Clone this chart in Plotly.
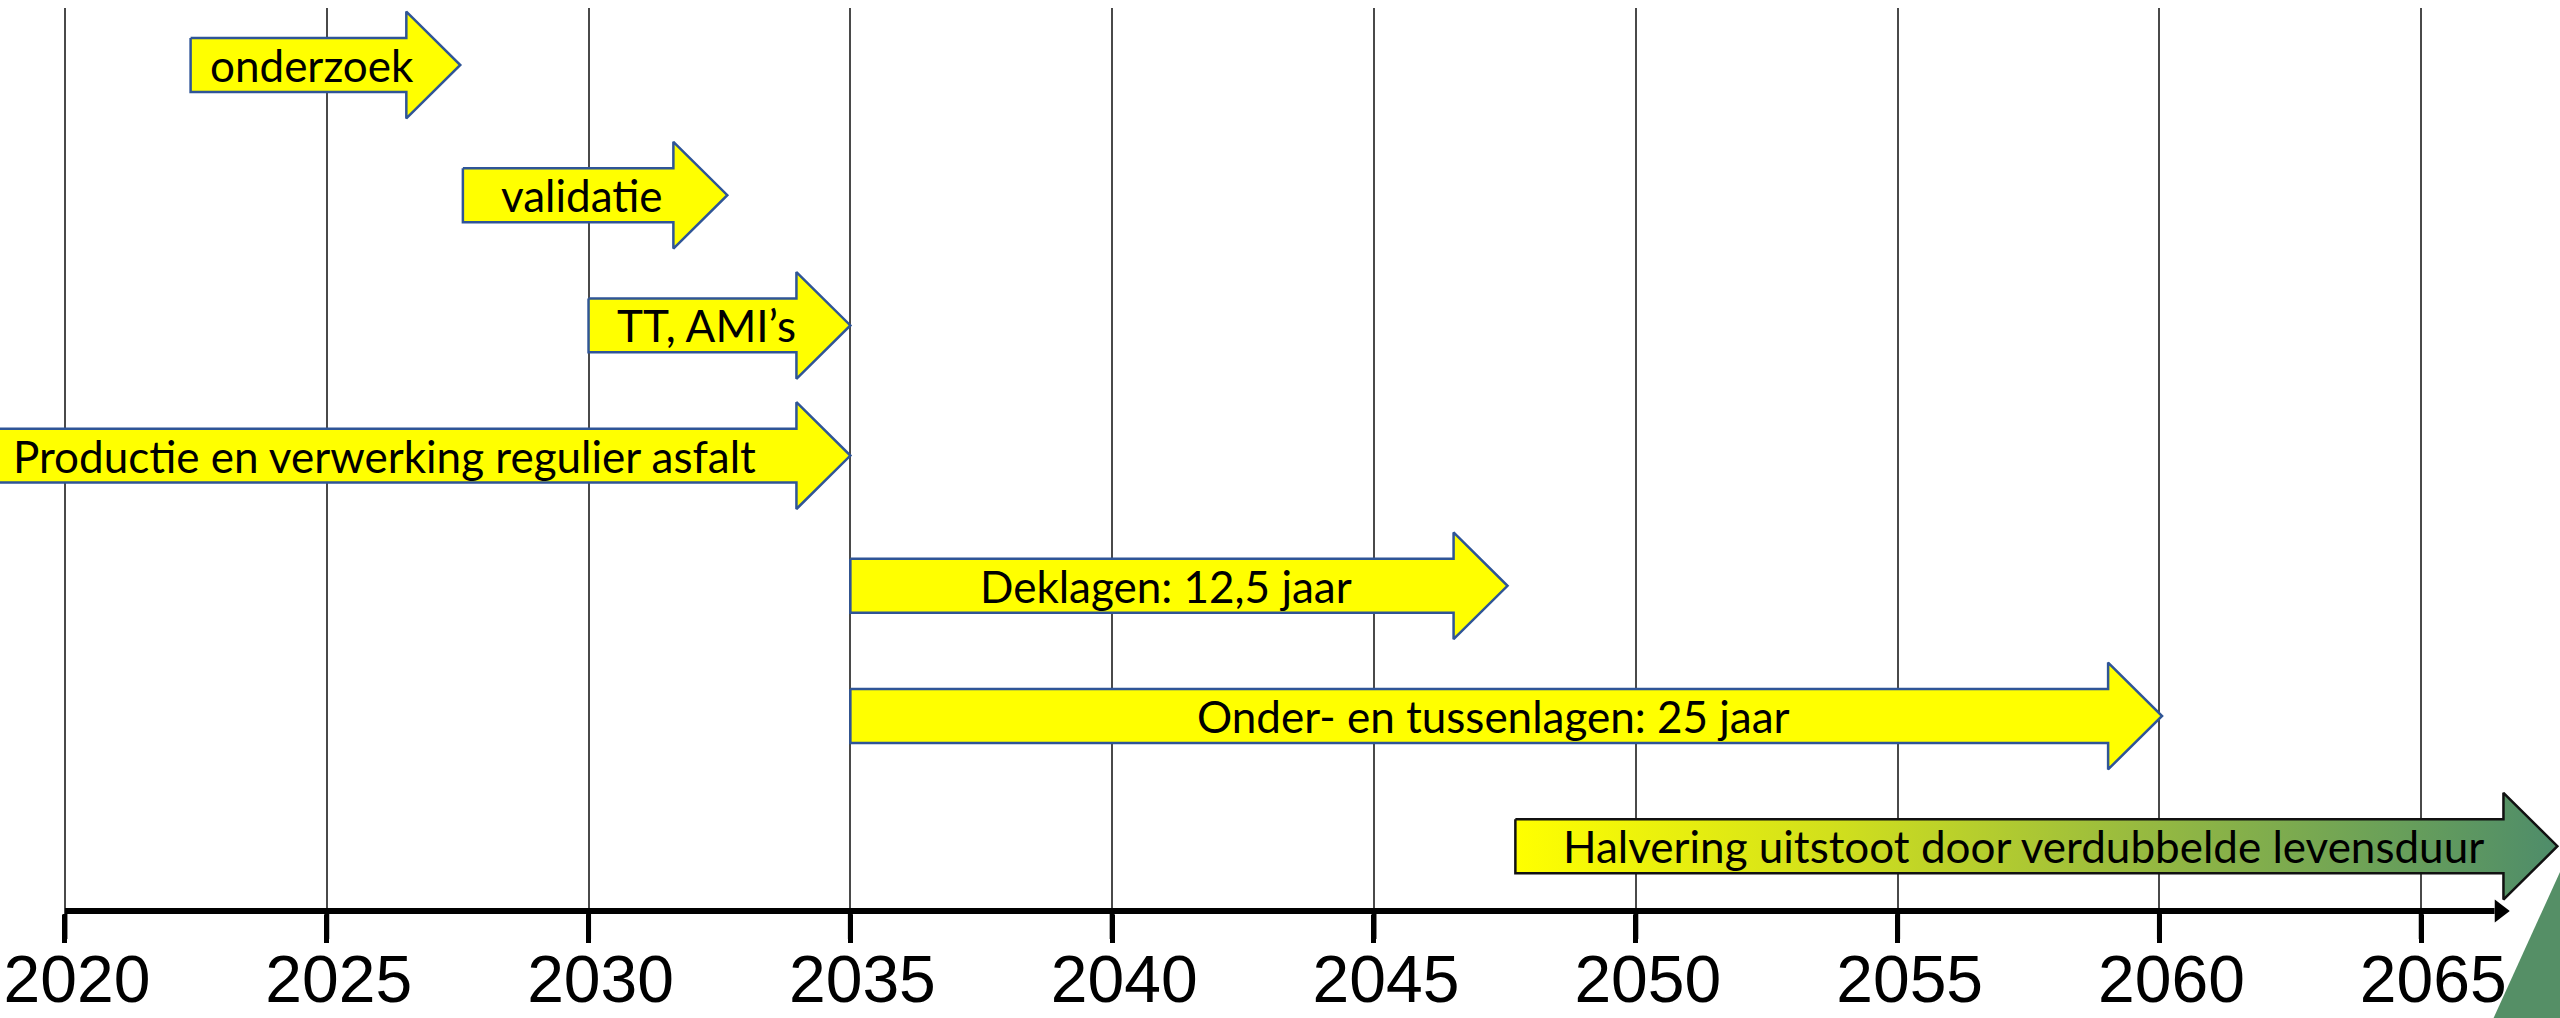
import plotly.graph_objects as go

# ---- data ----
tasks = ["onderzoek", "validatie", "TT, AMI’s",
         "Productie en verwerking regulier asfalt",
         "Deklagen: 12,5 jaar", "Onder- en tussenlagen: 25 jaar",
         "Halvering uitstoot door verdubbelde levensduur"]
start_year = [2022.4, 2027.6, 2030.0, 2017.7, 2035.0, 2035.0, 2047.7]
end_year = [2027.55, 2032.65, 2035.0, 2035.0, 2047.55, 2060.05, 2067.6]
rows = [0, 1, 2, 3, 4, 5, 6]
tick_years = [2020, 2025, 2030, 2035, 2040, 2045, 2050, 2055, 2060, 2065]
axis_start, axis_end = 2020, 2066.5
axis_row = 6.498

# ---- style ----
HEAD_LEN = 1.03
BODY_H = 0.207
HEAD_H = 0.41
YELLOW = "#FFFF00"
OUTLINE = "#2F5597"
TEXT_FONT = "Lato"

fig = go.Figure()

for i, (name, s, t, r) in enumerate(zip(tasks, start_year, end_year, rows)):
    b = t - HEAD_LEN
    xs = [s, b, b, t, b, b, s, s]
    ys = [r - BODY_H, r - BODY_H, r - HEAD_H, r, r + HEAD_H, r + BODY_H, r + BODY_H, r - BODY_H]
    last = i == len(tasks) - 1
    kw = dict(x=xs, y=ys, mode="lines", fill="toself", hoverinfo="skip", showlegend=False)
    if last:
        kw["line"] = dict(color="#111111", width=2.5)
        kw["fillgradient"] = dict(type="horizontal",
                                  colorscale=[[0, "#FFFF00"], [0.3, "#D2E01C"],
                                              [0.6, "#97BA40"], [0.85, "#689F5A"],
                                              [1, "#4E8C6A"]])
    else:
        kw["line"] = dict(color=OUTLINE, width=2.5)
        kw["fillcolor"] = YELLOW
    fig.add_trace(go.Scatter(**kw))
    fig.add_annotation(x=(s + t) / 2 - 0.25, y=r, text=name, showarrow=False,
                       xref="x", yref="y", xanchor="center", yanchor="middle",
                       font=dict(family=TEXT_FONT, size=44, color="black"))

# timeline axis line with arrow
fig.add_trace(go.Scatter(x=[axis_start, axis_end - 0.1], y=[axis_row, axis_row], mode="lines",
                         line=dict(color="black", width=6), hoverinfo="skip",
                         showlegend=False))
fig.add_trace(go.Scatter(x=[axis_end], y=[axis_row], mode="markers", cliponaxis=False,
                         marker=dict(symbol="triangle-right", size=20, color="black"),
                         hoverinfo="skip", showlegend=False))

# tick marks below the timeline
for yr in tick_years:
    fig.add_shape(type="line", xref="x", yref="paper", x0=yr, x1=yr,
                  y0=0.0, y1=-0.0276, line=dict(color="black", width=5), layer="above")

# decorative corner triangle
fig.add_shape(type="path", xref="paper", yref="paper",
              path="M 1 0.0464 L 1 -0.14 L 0.97 -0.14 Z",
              fillcolor="#558F66", line=dict(width=0), layer="above")

fig.update_layout(
    width=2560, height=1018,
    margin=dict(l=0, r=0, t=8, b=104, autoexpand=False),
    plot_bgcolor="white", paper_bgcolor="white",
    xaxis=dict(range=[2018.76, 2067.65], tickvals=tick_years,
               ticktext=[str(v) for v in tick_years],
               showgrid=True, gridcolor="#4a4a4a", gridwidth=1.5,
               zeroline=False, showline=False, automargin=False,
               ticks="outside", ticklen=28, tickwidth=5, tickcolor="black",
               ticklabelshift=12, ticklabelstandoff=-20,
               tickfont=dict(family="Liberation Sans, Arial", size=66, color="black")),
    yaxis=dict(range=[6.5207, -0.4378], visible=False, showgrid=False,
               zeroline=False, automargin=False),
)

fig.write_html("out.html", config={"displayModeBar": False},
               post_script="document.body.style.margin='0';")
